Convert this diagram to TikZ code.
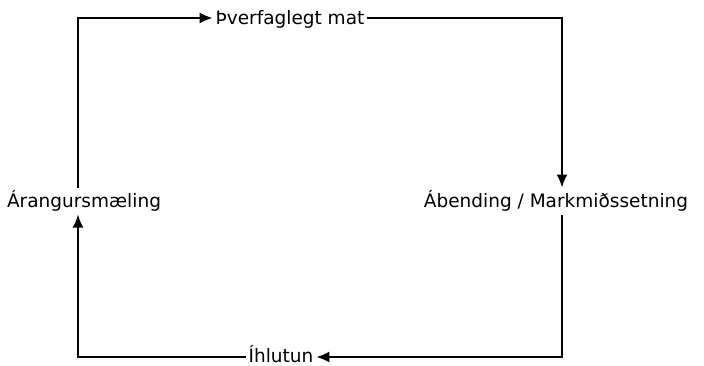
\documentclass[tikz,border=0pt]{standalone}
\usepackage{fontspec}
\setmainfont{DejaVu Sans}
\usetikzlibrary{arrows.meta}

\begin{document}
\begin{tikzpicture}[x=1pt,y=1pt,
	label/.style={inner sep=0pt,outer sep=3pt,font=\fontsize{18.5}{20}\selectfont},
	flow/.style={line width=1.9pt,-{Latex[length=13pt,width=11pt]}}]
	\useasboundingbox (0,0) rectangle (704,365);
	\node[label] (T) at (290,346) {Þverfaglegt mat};
	\node[label] (R) at (556,164) {Ábending / Markmiðssetning};
	\node[label] (L) at (84,164) {Árangursmæling};
	\node[label,anchor=base] (B) at (281,3) {Íhlutun};
	%
	\coordinate (TL) at (78,347);
	\coordinate (TR) at (562,347);
	\coordinate (BR) at (562,8);
	\coordinate (BL) at (78,8);
	% cycle
	\draw[flow] (L.north -| TL) -- (TL) -- (T.west |- TL);
	\draw[flow] (T.east |- TR) -- (TR) -- (R.north -| TR);
	\draw[flow] (R.south -| BR) -- (BR) -- (B.east |- BR);
	\draw[flow] (B.west |- BL) -- (BL) -- (L.south -| BL);
\end{tikzpicture}
\end{document}
